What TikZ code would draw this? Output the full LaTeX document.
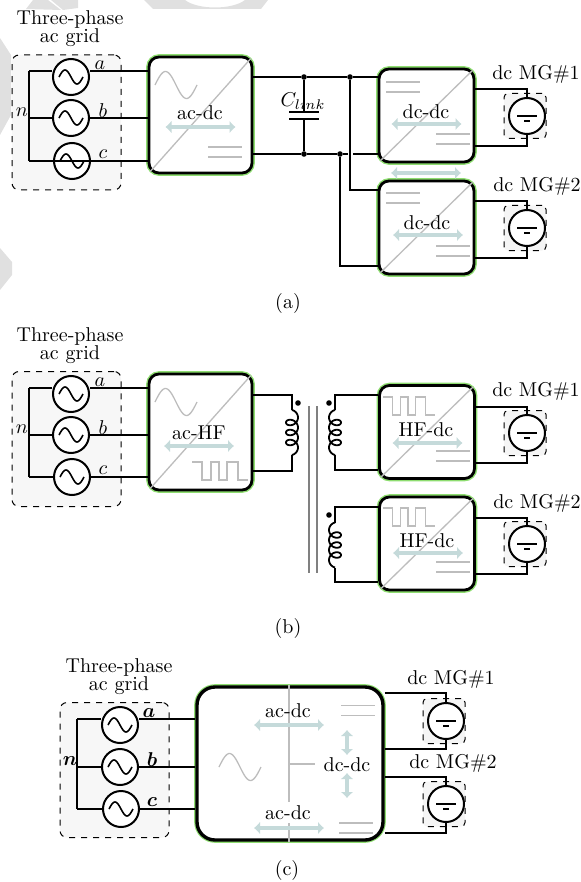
\documentclass[tikz,border=0pt]{standalone}
\usepackage{bm}
\usetikzlibrary{arrows.meta}

\definecolor{haloc}{HTML}{8EDD70}
\definecolor{flowc}{HTML}{C5DADA}
\definecolor{markc}{HTML}{BDBDBD}
\definecolor{sheetc}{HTML}{E0E0E0}

\tikzset{
	wire/.style={line width=1pt},
	graymark/.style={draw=markc, line width=0.65pt},
	conv/.style={draw, line width=1.4pt, fill=white, rounded corners=5pt, inner sep=0pt,
		preaction={draw=haloc, line width=2.8pt}},
	bigconv/.style={conv, minimum width=51.5pt, minimum height=58pt},
	smallconv/.style={conv, minimum width=47.5pt, minimum height=46.5pt},
	gridbox/.style={draw, dashed, line width=0.5pt, fill=black!3, rounded corners=3.5pt,
		minimum width=54.5pt, minimum height=67.5pt},
	dcbox/.style={draw, dashed, line width=0.5pt, fill=black!4, rounded corners=2pt,
		minimum width=21pt, minimum height=22.5pt},
	source/.style={draw, circle, line width=1pt, fill=white, minimum size=18pt, inner sep=0pt},
	dotmark/.style={circle, fill, minimum size=2.8pt, inner sep=0pt},
	acwave/.pic={\draw[line width=0.8pt] plot[smooth, domain=-12:12, samples=25] (\x,{7*sin(\x*15)});},
	dcsym/.pic={\draw[line width=1pt] (-10,0) -- (10,0) (-3,5) -- (3,5);},
	sinewave/.pic={\draw[graymark] plot[smooth, domain=0:42, samples=40] (\x,{-13.5*sin(\x*360/42)});},
	squarewave/.pic={\draw[graymark] (0,0) -- (10,0) -- (10,18) -- (19,18) -- (19,0) -- (27,0) -- (27,18)
		-- (35,18) -- (35,0) -- (46,0) -- (46,18) -- (56,18);},
	dclines/.pic={\draw[graymark] (-17,-5) -- (17,-5) (-17,5) -- (17,5);},
	flowh/.pic={\draw[{Latex[length=3pt,width=6.5pt]}-{Latex[length=3pt,width=6.5pt]}, draw=flowc, fill=flowc, line width=2.2pt] (-35,0) -- (35,0);},
	flowv/.pic={\draw[{Latex[length=3pt,width=6.5pt]}-{Latex[length=3pt,width=6.5pt]}, draw=flowc, fill=flowc, line width=2.2pt] (0,-12.5) -- (0,12.5);},
	coilturns/.pic={\draw[line width=0.9pt] plot[smooth, domain=-90:1170, samples=120] ({6*cos(\x)},{\x/36+5*sin(\x)-15});},
}

\begin{document}
\begin{tikzpicture}[x=0.5pt, y=-0.5pt]
	\useasboundingbox (0,0) rectangle (581,882);

	% Draw the faint marks behind the figure
	\fill[sheetc] (26,9) -- (33,0) -- (48,0) -- (61,10) -- cycle;
	\fill[sheetc] (51,0) -- (78,0) -- (78,8) -- (63,10) -- cycle;
	\fill[sheetc] (144,0) -- (153,9) -- (261,9) -- (268,0) -- (245,0) .. controls (232,10) and (198,10) .. (185,0) -- cycle;
	\fill[sheetc] (0,38) -- (11,55) -- (11,115) -- (0,135) -- cycle;
	\fill[sheetc] (0,248) -- (12,262) -- (12,275) -- (0,290) -- cycle;

	% Draw the three-phase grids
	\foreach \p/\xn/\xs/\xb/\yb/\ya/\ym/\yc/\yt/\c/\fmt in {
		1/29/71/66.5/122.5/71/118/161/29/conv1/\mathnormal,
		2/29/71/66.5/439/388/435/477/346/conv4/\mathnormal,
		3/77/120/114.5/770/719/767/809/677/conv7/\bm}{
		\node[gridbox] (grid\p) at (\xb,\yb) {};
		\node[align=center] (title\p) at (\xs-1,\yt) {Three-phase\\[-3pt]ac grid};
		\node[source] (a\p) at (\xs,\ya+6) {};
		\node[source] (b\p) at (\xs,\ym) {};
		\node[source] (c\p) at (\xs+1,\yc) {};
		\pic at (a\p) {acwave};
		\pic at (b\p) {acwave};
		\pic at (c\p) {acwave};
		\node (la\p) at (\xs+29,\ya-6) {$\fmt{a}$};
		\node (lb\p) at (\xs+32,\ym-7) {$\fmt{b}$};
		\node (lc\p) at (\xs+32,\yc-7) {$\fmt{c}$};
		\node (ln\p) at (\xn-7,\ym-6) {$\fmt{n}$};
		\coordinate (na\p) at (\xn,\ya);
		\coordinate (nb\p) at (\xn,\ym);
		\coordinate (nc\p) at (\xn,\yc);
	}

	% Draw the converters
	\node[bigconv] (conv1) at (200.5,115) {};
	\node[smallconv] (conv2) at (426.5,115.5) {};
	\node[smallconv] (conv3) at (426.5,227.5) {};
	\node[bigconv] (conv4) at (200.5,432) {};
	\node[smallconv] (conv5) at (427,432) {};
	\node[smallconv] (conv6) at (427,543.5) {};
	\node[conv, line width=1.7pt, rounded corners=9pt, minimum width=93pt, minimum height=76.5pt] (conv7) at (290,763.5) {};

	% Draw the gray marks inside the converters
	\foreach \c in {conv1,conv2,conv3,conv4,conv5,conv6}
		\draw[graymark, shorten <=2pt, shorten >=2pt] (\c.south west) -- (\c.north east);
	\pic at (155,85) {sinewave};
	\pic at (155,402) {sinewave};
	\pic at (219,767) {sinewave};
	\pic at (225,152) {dclines};
	\pic at (403,87) {dclines};
	\pic at (453,139) {dclines};
	\pic at (403,198) {dclines};
	\pic at (453,251) {dclines};
	\pic at (192,462) {squarewave};
	\pic[xscale=0.93] at (383,397) {squarewave};
	\pic at (453,456) {dclines};
	\pic[xscale=0.93] at (383,508) {squarewave};
	\pic at (453,567) {dclines};
	\pic at (358,710.5) {dclines};
	\pic at (356,828) {dclines};
	\coordinate (tee) at (289,764);
	\draw[graymark] (conv7.north -| tee) -- (289,802);
	\draw[graymark] (289,823) -- (conv7.south -| tee);
	\draw[graymark] (tee) -- (315,764);

	% Draw the flow arrows
	\pic at (200.5,127) {flowh};
	\pic at (426.5,124) {flowh};
	\pic at (426,173) {flowh};
	\pic at (428,235) {flowh};
	\pic at (199,446) {flowh};
	\pic at (427.5,443) {flowh};
	\pic at (428,553) {flowh};
	\pic at (289,725) {flowh};
	\pic at (289,828) {flowh};
	\pic at (347,742.5) {flowv};
	\pic at (347,785.5) {flowv};

	% Draw the converter names
	\node (name1) at (200,113) {ac-dc};
	\node (name2) at (426,112) {dc-dc};
	\node (name3) at (427,223) {dc-dc};
	\node (name4) at (199,433) {ac-HF};
	\node (name5) at (426,430) {HF-dc};
	\node (name6) at (427,541) {HF-dc};
	\node (name7) at (288,711) {ac-dc};
	\node (name8) at (288,813) {ac-dc};
	\node (name9) at (347,765) {dc-dc};

	% Draw the grid wires
	\foreach \p/\c in {1/conv1,2/conv4,3/conv7}{
		\draw[wire] (na\p) -- (nc\p);
		\draw[wire] (na\p) -- (a\p.west |- na\p);
		\draw[wire] (a\p.east |- na\p) -- (\c.west |- na\p);
		\draw[wire] (nb\p) -- (b\p.west);
		\draw[wire] (b\p.east) -- (\c.west |- nb\p);
	}
	\draw[wire, line width=1.1pt] (nc1) -- (conv1.west |- nc1);
	\foreach \p/\c in {2/conv4,3/conv7}{
		\draw[wire] (nc\p) -- (c\p.west);
		\draw[wire] (c\p.east) -- (\c.west |- nc\p);
	}

	% Draw the link capacitor and the rails
	\node[dotmark] (capt) at (304,77) {};
	\node[dotmark] (capb) at (304,154) {};
	\node[dotmark] (railt) at (350,77) {};
	\node[dotmark] (railb) at (340,154) {};
	\coordinate (platet) at (304,112);
	\coordinate (plateb) at (304,119);
	\coordinate (gapl) at (348,154);
	\coordinate (gapr) at (353,154);
	\draw[wire] (capt) -- (platet);
	\draw[wire] (plateb) -- (capb);
	\draw[wire, line width=1.2pt] (platet) ++(-15,0) -- ++(30,0);
	\draw[wire, line width=1.2pt] (plateb) ++(-15,0) -- ++(30,0);
	\node (clink) at (303,101) {$C_{link}$};
	\draw[wire] (conv1.east |- capt) -- (capt) -- (railt) -- (conv2.west |- railt);
	\draw[wire] (conv1.east |- capb) -- (capb) -- (railb) -- (gapl);
	\draw[wire] (gapr) -- (conv2.west |- gapr);
	\draw[wire] (railt) |- (conv3.west |- 0,190);
	\draw[wire] (railb) |- (conv3.west |- 0,266);

	% Draw the transformer
	\coordinate (prima) at (292,395);
	\coordinate (primb) at (292,410);
	\coordinate (primc) at (292,455);
	\coordinate (primd) at (292,471);
	\draw[wire] (conv4.east |- prima) -- (prima) -- (primb);
	\draw[wire] (primc) -- (primd) -- (conv4.east |- primd);
	\pic at (292,432.5) {coilturns};
	\foreach \s/\c/\ya/\yb/\ym/\yc/\yd in {1/conv5/395/410/432.5/455/470, 2/conv6/507/522.5/545/567.5/582}{
		\coordinate (seca\s) at (335,\ya);
		\coordinate (secb\s) at (335,\yb);
		\coordinate (secc\s) at (335,\yc);
		\coordinate (secd\s) at (335,\yd);
		\draw[wire] (\c.west |- seca\s) -- (seca\s) -- (secb\s);
		\draw[wire] (secc\s) -- (secd\s) -- (\c.west |- secd\s);
		\pic[xscale=-1] at (335,\ym) {coilturns};
	}
	\node[dotmark] (dotp) at (298,403) {};
	\node[dotmark] (dotsa) at (329,403) {};
	\node[dotmark] (dotsb) at (329,515) {};
	\draw[draw=gray, line width=0.65pt] (309,406) -- (309,573);
	\draw[draw=gray, line width=0.65pt] (317,406) -- (317,573);

	% Draw the dc microgrids
	\foreach \m/\c/\x/\y/\yt/\yb/\lx/\ly/\txt in {
		1/conv2/527/116/89/146/536/74/dc MG\#1,
		2/conv3/527/228/201/258/537/186/dc MG\#2,
		3/conv5/527/433/407/463/536/391/dc MG\#1,
		4/conv6/527/544/518/574/537/503/dc MG\#2,
		5/conv7/446/721/693/749/451/679/dc MG\#1,
		6/conv7/446/804/777/833/453/763/dc MG\#2}{
		\node[dcbox] (box\m) at (\x-2,\y) {};
		\node[source] (mg\m) at (\x,\y) {};
		\pic at (mg\m) {dcsym};
		\node (lmg\m) at (\lx,\ly) {\txt};
		\draw[wire] (\c.east |- 0,\yt) -| (mg\m.north);
		\draw[wire] (\c.east |- 0,\yb) -| (mg\m.south);
	}

	% Draw the captions
	\node (capa) at (288,303) {(a)};
	\node (capb2) at (288,628) {(b)};
	\node (capc) at (287,870) {(c)};
\end{tikzpicture}
\end{document}
